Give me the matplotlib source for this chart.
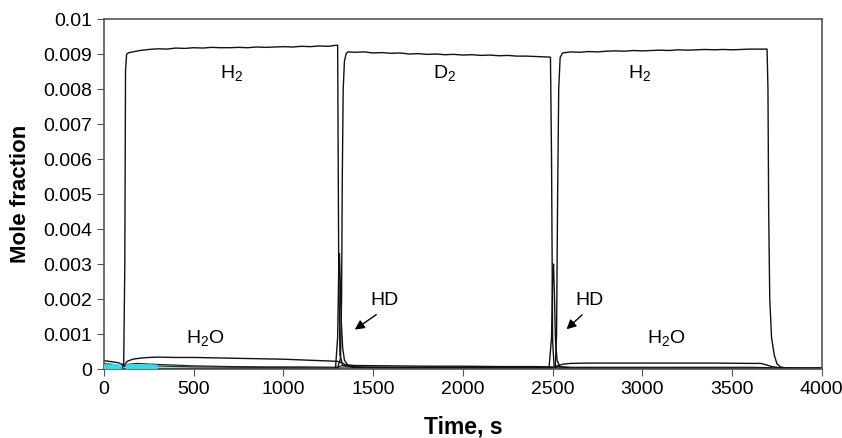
import matplotlib
matplotlib.use('Agg')
import matplotlib.pyplot as plt
import numpy as np

plt.rcParams['font.family'] = ['Liberation Sans', 'DejaVu Sans']
plt.rcParams['mathtext.default'] = 'regular'

# H2 signal (first and third step), (time s, mole fraction)
h2_pts = [(0, 0.00002), (100, 0.00002), (110, 0.0002), (116, 0.0030), (120, 0.0085),
          (126, 0.00900), (140, 0.00904), (170, 0.00907), (200, 0.00910), (250, 0.00913),
          (300, 0.00915), (350, 0.00914), (400, 0.00917), (450, 0.00916), (500, 0.00918),
          (550, 0.00917), (600, 0.00919), (650, 0.00918), (700, 0.00918), (750, 0.00919),
          (800, 0.00918), (850, 0.00920), (900, 0.00919), (950, 0.00920), (1000, 0.00921),
          (1050, 0.00920), (1100, 0.00922), (1150, 0.00921), (1200, 0.00923), (1250, 0.00922),
          (1295, 0.00925), (1302, 0.00925), (1308, 0.0030), (1315, 0.0004), (1330, 0.00010),
          (1400, 0.00004), (1800, 0.00003), (2200, 0.00003), (2500, 0.00003), (2515, 0.00005),
          (2522, 0.0010), (2528, 0.0050), (2534, 0.0080), (2542, 0.00890), (2555, 0.00903),
          (2600, 0.00906), (2650, 0.00905), (2700, 0.00907), (2750, 0.00906), (2800, 0.00908),
          (2850, 0.00909), (2900, 0.00908), (2950, 0.00910), (3000, 0.00909), (3050, 0.00910),
          (3100, 0.00911), (3150, 0.00910), (3200, 0.00912), (3250, 0.00911), (3300, 0.00912),
          (3350, 0.00913), (3400, 0.00912), (3450, 0.00913), (3500, 0.00912), (3550, 0.00913),
          (3600, 0.00914), (3650, 0.00914), (3695, 0.00914), (3700, 0.0080), (3704, 0.0045),
          (3710, 0.0020), (3720, 0.0009), (3735, 0.0004), (3750, 0.00015), (3770, 0.00006),
          (3800, 0.00003), (3900, 0.00002), (4000, 0.00002)]

# D2 signal (second step)
d2_pts = [(0, 0.00001), (1300, 0.00001), (1318, 0.0003), (1324, 0.0020), (1328, 0.0055),
          (1333, 0.0080), (1340, 0.0088), (1350, 0.00902), (1360, 0.00906), (1400, 0.00905),
          (1450, 0.00906), (1500, 0.00903), (1550, 0.00904), (1600, 0.00902), (1650, 0.00903),
          (1700, 0.00900), (1750, 0.00901), (1800, 0.00899), (1850, 0.00900), (1900, 0.00898),
          (1950, 0.00899), (2000, 0.00897), (2050, 0.00898), (2100, 0.00896), (2150, 0.00897),
          (2200, 0.00895), (2250, 0.00896), (2300, 0.00894), (2350, 0.00894), (2400, 0.00893),
          (2450, 0.00892), (2488, 0.00891), (2494, 0.0060), (2500, 0.0008), (2508, 0.00010),
          (2520, 0.00003), (2600, 0.00001), (4000, 0.00001)]

# HD transient peaks
hd_pts = [(0, 0.00001), (1290, 0.00001), (1302, 0.0009), (1308, 0.0028), (1312, 0.0033),
          (1316, 0.0026), (1322, 0.0014), (1330, 0.0006), (1340, 0.00025), (1360, 0.00010),
          (1400, 0.00006), (1500, 0.00004), (2000, 0.00003), (2480, 0.00003), (2494, 0.0009),
          (2500, 0.0026), (2505, 0.0030), (2510, 0.0021), (2516, 0.0008), (2525, 0.00025),
          (2540, 0.00007), (2600, 0.00003), (3000, 0.00002), (4000, 0.00002)]

# H2O signal
h2o_pts = [(0, 0.00024), (40, 0.00021), (80, 0.00018), (105, 0.00012), (115, 0.00013),
           (130, 0.00022), (160, 0.00028), (200, 0.00031), (250, 0.00033), (300, 0.00034),
           (400, 0.00033), (500, 0.00033), (600, 0.00032), (700, 0.00031), (800, 0.00030),
           (900, 0.00029), (1000, 0.00028), (1100, 0.00026), (1200, 0.00024), (1300, 0.00022),
           (1310, 0.00020), (1325, 0.00018), (1345, 0.00012), (1400, 0.00010), (1600, 0.00009),
           (1800, 0.00008), (2000, 0.00008), (2200, 0.00007), (2400, 0.00007), (2495, 0.00006),
           (2510, 0.00005), (2530, 0.00010), (2560, 0.00014), (2600, 0.00016), (2700, 0.00017),
           (2800, 0.00017), (3000, 0.00017), (3200, 0.00017), (3400, 0.00017), (3600, 0.00016),
           (3660, 0.00016), (3690, 0.00012), (3720, 0.00007), (3760, 0.00004), (3800, 0.00003),
           (4000, 0.00003)]

# other minor species near the baseline
m1_pts = [(0, 0.00015), (50, 0.00013), (100, 0.00008), (130, 0.00013), (180, 0.00016),
          (250, 0.00014), (350, 0.00012), (500, 0.00009), (700, 0.00007), (900, 0.00006),
          (1100, 0.00006), (1300, 0.00005), (1330, 0.00010), (1400, 0.00006), (2000, 0.00004),
          (2500, 0.00004), (2530, 0.00007), (2600, 0.00005), (3000, 0.00005), (3600, 0.00005),
          (3700, 0.00004), (3760, 0.00002), (4000, 0.00002)]
m2_pts = [(0, 0.00010), (100, 0.00006), (140, 0.00010), (250, 0.00009), (500, 0.00006),
          (1000, 0.00004), (1300, 0.00003), (1500, 0.00003), (2000, 0.00003), (2500, 0.00002),
          (3000, 0.00003), (3700, 0.00002), (4000, 0.00001)]

# cyan trace at the baseline
cy_pts = [(0, 0.00002), (300, 0.00002), (800, 0.00001), (1300, 0.00001), (1800, 0.00001),
          (2300, 0.00001), (2600, 0.00001)]
cy_noise_pts = [(0, 0.00004), (30, 0.00003), (60, 0.00005), (80, 0.00003), (np.nan, np.nan),
                (140, 0.00004), (170, 0.00005), (210, 0.00003), (250, 0.00004), (280, 0.00003)]


def xy(pts):
    t, v = zip(*pts)
    return list(t), list(v)


fig = plt.figure(figsize=(8.42, 4.38), dpi=100)
ax = fig.add_axes([0.1235, 0.1575, 0.8525, 0.7991])

ax.plot(*xy(cy_pts), color='#29e0ee', lw=1.2, zorder=1)
ax.plot(*xy(m2_pts), color='#333333', lw=0.9)
ax.plot(*xy(m1_pts), color='#222222', lw=0.9)
ax.plot(*xy(h2o_pts), color='#111111', lw=1.0)
ax.plot(*xy(hd_pts), color='#111111', lw=1.0)
ax.plot(*xy(d2_pts), color='#111111', lw=1.0)
ax.plot(*xy(h2_pts), color='#111111', lw=1.0)
ax.plot(*xy(cy_noise_pts), color='#29e0ee', lw=5, zorder=3)

ax.set_xlim(0, 4000)
ax.set_ylim(0, 0.01)
ax.set_xticks(np.arange(0, 4001, 500))
ax.set_yticks(np.arange(0, 0.0101, 0.001))
ax.set_yticklabels(['0'] + ['0.%03d' % i for i in range(1, 10)] + ['0.01'])
ax.tick_params(labelsize=14, direction='out', length=5, color='#555555')
for s in ax.spines.values():
    s.set_color('#555555')
    s.set_linewidth(1.2)

ax.set_xlabel('Time, s', fontsize=16.5, fontweight='bold', labelpad=13)
ax.set_ylabel('Mole fraction', fontsize=16, fontweight='bold', labelpad=9)

lbl = dict(fontsize=14, ha='center', va='center')
ax.text(713, 0.00846, 'H$_2$', **lbl)
ax.text(1900, 0.00846, 'D$_2$', **lbl)
ax.text(2986, 0.00846, 'H$_2$', **lbl)
ax.text(563, 0.00088, 'H$_2$O', **lbl)
ax.text(3131, 0.00088, 'H$_2$O', **lbl)
ax.text(1565, 0.00195, 'HD', **lbl)
ax.text(2707, 0.00195, 'HD', **lbl)
arr = dict(arrowstyle='-|>', color='black', lw=1.0, mutation_scale=14)
ax.annotate('', xy=(1385, 0.00108), xytext=(1530, 0.00160), arrowprops=arr)
ax.annotate('', xy=(2566, 0.00108), xytext=(2675, 0.00160), arrowprops=arr)

fig.savefig('out.png', dpi=100)
